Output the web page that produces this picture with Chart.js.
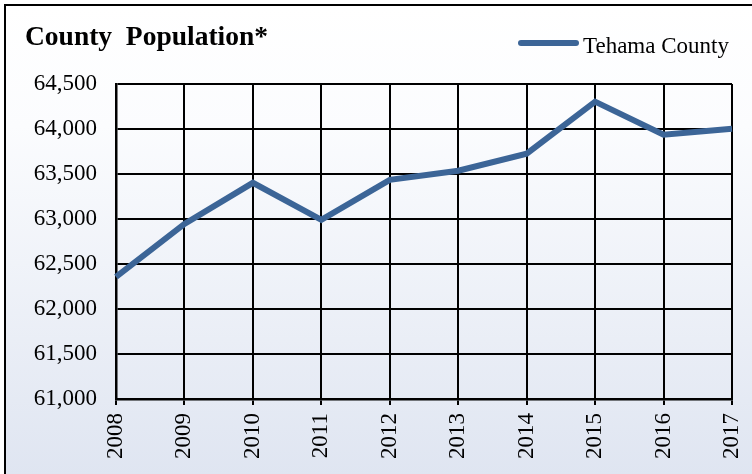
<!DOCTYPE html>
<html lang="en">
<head>
  <meta charset="UTF-8" />
  <title>County Population</title>
  <script src="https://cdn.jsdelivr.net/npm/chart.js"></script>
  <style>
    html, body { margin: 0; padding: 0; width: 752px; height: 474px; overflow: hidden; background: #fff; }
    .frame {
      position: absolute; left: 4px; top: 4px; width: 800px; height: 600px;
      border: 2px solid #000;
      background: linear-gradient(#ffffff 0px, #fbfcfe 120px, #dfe5f1 470px);
    }
    canvas { position: absolute; left: 0; top: 0; }
  </style>
</head>
<body>
  <div class="frame"></div>
  <canvas id="popChart" width="752" height="474"></canvas>

  <script>
    // data
    const years = ['2008', '2009', '2010', '2011', '2012', '2013', '2014', '2015', '2016', '2017'];
    const tehama = [62358, 62945, 63402, 62990, 63435, 63536, 63725, 64304, 63936, 64003];
    const seriesName = 'Tehama County';
    const chartTitle = 'County  Population*';

    const lineColor = '#3c6597';
    const serif = '"Liberation Serif", "Times New Roman", serif';

    // title + legend drawn on one row, like the original
    const headerPlugin = {
      id: 'header',
      afterDraw(chart) {
        const ctx = chart.ctx;
        ctx.save();
        ctx.fillStyle = '#000';
        ctx.font = 'bold 27.5px ' + serif;
        ctx.textBaseline = 'alphabetic';
        ctx.fillText(chartTitle, 25, 45);

        ctx.strokeStyle = lineColor;
        ctx.lineWidth = 6;
        ctx.lineCap = 'round';
        ctx.beginPath();
        ctx.moveTo(521, 43);
        ctx.lineTo(576, 43);
        ctx.stroke();

        ctx.font = '23px ' + serif;
        ctx.fillText(chart.data.datasets[0].label, 583, 53);
        ctx.restore();
      }
    };

    const ctx = document.getElementById('popChart').getContext('2d');
    new Chart(ctx, {
      type: 'line',
      data: {
        labels: years,
        datasets: [{
          label: seriesName,
          data: tehama,
          borderColor: lineColor,
          borderWidth: 6,
          pointRadius: 0,
          tension: 0,
          fill: false
        }]
      },
      options: {
        responsive: false,
        animation: false,
        layout: { padding: { left: 0, right: 20, top: 84, bottom: 0 } },
        plugins: {
          legend: { display: false },
          title: { display: false },
          tooltip: { enabled: false }
        },
        scales: {
          x: {
            offset: false,
            afterFit: (s) => { s.height = 75; s.paddingLeft = 0; s.paddingRight = 0; },
            grid: { color: '#000', lineWidth: 2, drawTicks: true, tickLength: 6 },
            border: { color: '#000', width: 2.5 },
            ticks: {
              color: '#000',
              font: { family: serif, size: 23 },
              minRotation: 90,
              maxRotation: 90,
              padding: 8,
              autoSkip: false
            }
          },
          y: {
            min: 61000,
            max: 64500,
            afterFit: (s) => { s.width = 116; s.paddingTop = 0; s.paddingBottom = 0; },
            grid: { color: '#000', lineWidth: 2, drawTicks: false },
            border: { color: '#000', width: 2.5 },
            ticks: {
              stepSize: 500,
              color: '#000',
              font: { family: serif, size: 23 },
              padding: 19
            }
          }
        }
      },
      plugins: [headerPlugin]
    });
  </script>
</body>
</html>
